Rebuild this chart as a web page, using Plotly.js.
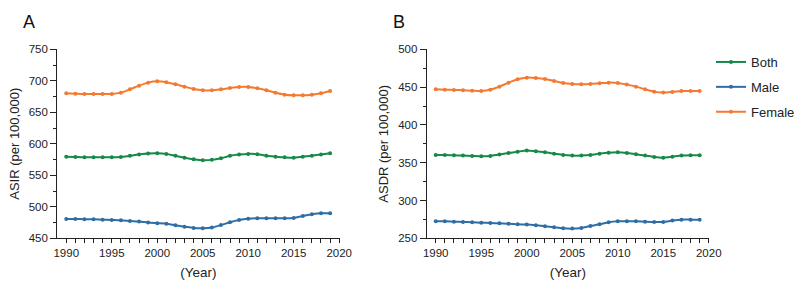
<!DOCTYPE html>
<html>
<head>
<meta charset="utf-8">
<script src="https://cdn.plot.ly/plotly-3.0.1.min.js"></script>
<style>html,body{margin:0;padding:0;background:#fff;}#chart{width:800px;height:284px;}</style>
</head>
<body>
<div id="chart"></div>
<script>
const years = [1990,1991,1992,1993,1994,1995,1996,1997,1998,1999,2000,2001,2002,2003,2004,2005,2006,2007,2008,2009,2010,2011,2012,2013,2014,2015,2016,2017,2018,2019];
const seriesNames = ["Both","Male","Female"];
const asirBoth = [579.6,579.0,578.5,578.5,578.5,578.5,579.0,581,583,584.5,585,584,581,578,575.5,574,574.5,577,581,583,584,583.5,581,579.6,578.5,578,579.6,581,583,585];
const asirMale = [480.7,480.7,480.2,480.2,479.6,479.1,478.6,477.5,476.5,475,474,473,470.6,468.5,466.4,466,467,471,475.5,479,481,481.7,481.7,481.7,481.7,482.2,485.4,488,489.7,489.7];
const asirFemale = [680.2,679.6,679.1,679.1,679.1,679.1,681.2,686.5,692.3,697.1,699.2,697.6,694.4,690.7,687.0,684.9,684.9,686.5,688.6,690.2,690.2,688.1,684.9,681.2,678.0,677.0,677.0,678.0,680.2,683.9];
const asdrBoth = [360.2,360.2,359.8,359.4,359,358.5,359,360.7,362.9,364.6,366,365.1,363.8,362,360.2,359.4,359.4,360.2,362,363.3,363.8,362.9,361.1,359.4,357.6,356.7,358,359.4,359.8,359.8];
const asdrMale = [272.5,272.5,272,271.6,271.2,270.7,270.3,269.8,269.4,268.5,268.1,267.2,265.9,264.5,263.2,262.8,263.7,266.3,268.5,271.2,272.5,272.5,272.5,272,271.6,271.6,273.4,274.7,274.7,274.7];
const asdrFemale = [447.1,446.6,446.2,445.8,445.3,444.9,446.6,450.6,455.9,460.3,462.5,462.1,460.8,458.1,455.5,454.1,453.7,454.1,455,455.9,455.5,453.3,450.6,447.1,444,442.7,443.6,444.9,444.9,444.9];
const xTickVals = [1990,1991,1992,1993,1994,1995,1996,1997,1998,1999,2000,2001,2002,2003,2004,2005,2006,2007,2008,2009,2010,2011,2012,2013,2014,2015,2016,2017,2018,2019,2020];
const xTickText = xTickVals.map(v => v % 5 === 0 ? String(v) : "");
const colors = {Both:"#16894a", Male:"#2e6ea5", Female:"#f47a30"};

const FONT = "Liberation Sans, Arial, sans-serif";
const panels = [
  {x:"x", y:"y", data:{Both:asirBoth, Male:asirMale, Female:asirFemale}, legend:true},
  {x:"x2", y:"y2", data:{Both:asdrBoth, Male:asdrMale, Female:asdrFemale}, legend:false}
];
const traces = [];
panels.forEach(p => {
  seriesNames.forEach(name => {
    traces.push({
      type:"scatter", mode:"lines+markers", name:name,
      x:years, y:p.data[name], xaxis:p.x, yaxis:p.y,
      line:{color:colors[name], width:2, shape:"spline", smoothing:0.8},
      marker:{color:colors[name], size:4, symbol:"circle"},
      showlegend:p.legend, legendgroup:name
    });
  });
});

const xCommon = {
  range:[1989, 2020.05], showgrid:false, zeroline:false, showline:true, linecolor:"#222", linewidth:1,
  ticks:"outside", ticklen:4, tickcolor:"#222", tickwidth:1,
  tickmode:"array", tickvals:xTickVals, ticktext:xTickText,
  tickfont:{family:FONT, size:11.5, color:"#222"},
  title:{text:"(Year)", font:{family:FONT, size:13.5, color:"#222"}, standoff:9},
  fixedrange:true
};
const yCommon = {
  showgrid:false, zeroline:false, showline:true, linecolor:"#222", linewidth:1,
  ticks:"outside", ticklen:6, tickcolor:"#222", tickwidth:1,
  dtick:50, tickfont:{family:FONT, size:11.5, color:"#222"},
  minor:{dtick:25, ticks:"outside", ticklen:3, tickcolor:"#222", showgrid:false},
  fixedrange:true
};
const yDom = [1-238.3/284, 1-49.3/284];
const layout = {
  width:800, height:284,
  margin:{l:0, r:0, t:0, b:0},
  paper_bgcolor:"#fff", plot_bgcolor:"#fff",
  showlegend:true,
  font:{family:FONT, color:"#222"},
  xaxis:Object.assign({}, xCommon, {domain:[57.3/800, 340.5/800], anchor:"y"}),
  xaxis2:Object.assign({}, xCommon, {domain:[427.7/800, 711/800], anchor:"y2"}),
  yaxis:Object.assign({}, yCommon, {domain:yDom, range:[450,750], tick0:450, anchor:"x",
    title:{text:"ASIR (per 100,000)", font:{family:FONT, size:13, color:"#222"}, standoff:6}}),
  yaxis2:Object.assign({}, yCommon, {domain:yDom, range:[250,500], tick0:250, anchor:"x2",
    title:{text:"ASDR (per 100,000)", font:{family:FONT, size:13, color:"#222"}, standoff:6}}),
  legend:{x:713/800, y:1-47/284, xanchor:"left", yanchor:"top", font:{family:FONT, size:13, color:"#222"},
    traceorder:"grouped", tracegroupgap:5, bgcolor:"rgba(0,0,0,0)", itemwidth:30},
  annotations:[
    {text:"A", x:21/800, y:1-22/284, xref:"paper", yref:"paper", xanchor:"left", yanchor:"middle", showarrow:false, font:{family:FONT, size:18, color:"#111"}},
    {text:"B", x:392/800, y:1-22/284, xref:"paper", yref:"paper", xanchor:"left", yanchor:"middle", showarrow:false, font:{family:FONT, size:18, color:"#111"}}
  ]
};
Plotly.newPlot("chart", traces, layout, {staticPlot:true, displayModeBar:false});
</script>
</body>
</html>
